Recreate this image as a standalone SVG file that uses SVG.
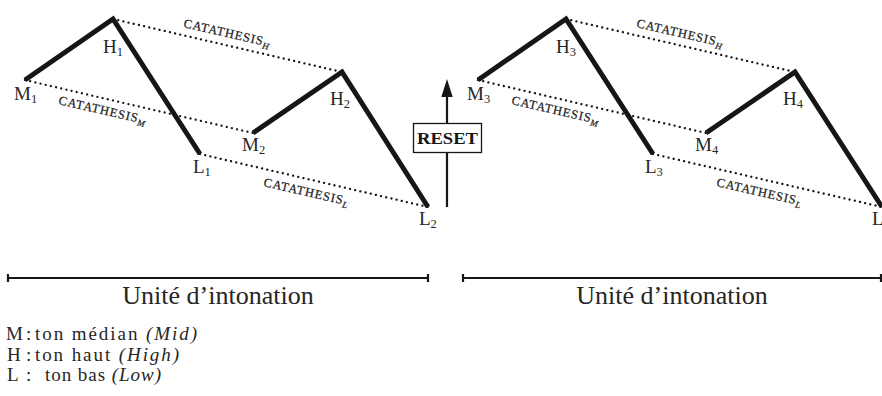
<svg xmlns="http://www.w3.org/2000/svg" width="882" height="396" viewBox="0 0 882 396">
<defs>
<style>
.thick{fill:none;stroke:#161616;stroke-width:5;stroke-linejoin:miter;stroke-linecap:butt}
.dot{fill:none;stroke:#161616;stroke-width:2.3;stroke-dasharray:0.01 5.3;stroke-linecap:round}
.lbl{font-family:"Liberation Serif","Times New Roman",serif;font-size:19px;fill:#262626}
.sub{font-size:12.5px}
.cat{font-family:"Liberation Serif","Times New Roman",serif;font-size:12.5px;letter-spacing:0.9px;fill:#1f1f1f;stroke:#1f1f1f;stroke-width:0.25}
.csub{font-size:9px;font-style:italic;letter-spacing:0}
.unit{font-family:"Liberation Serif","Times New Roman",serif;font-size:26px;fill:#262626}
.leg{font-family:"Liberation Serif","Times New Roman",serif;font-size:19px;fill:#262626}
.brk{fill:none;stroke:#161616;stroke-width:2.2}
</style>
</defs>

<g id="connectors">
<polyline class="thick" points="25,80 113,19 200,154"/>
<polyline class="thick" points="253,133 342,72 428,207"/>
<line class="dot" x1="113" y1="19" x2="342" y2="72"/>
<line class="dot" x1="25" y1="80" x2="253" y2="133"/>
<line class="dot" x1="200" y1="154" x2="428" y2="207"/>
<polyline class="thick" points="478,80 566,19 653,154"/>
<polyline class="thick" points="706,133 795,72 882,207"/>
<line class="dot" x1="566" y1="19" x2="795" y2="72"/>
<line class="dot" x1="478" y1="80" x2="706" y2="133"/>
<line class="dot" x1="653" y1="154" x2="882" y2="207"/>
<line x1="447" y1="207" x2="447" y2="96" stroke="#161616" stroke-width="2.2"/>
<path d="M441.3,97 L447,79 L452.7,97 Z" fill="#161616"/>
</g>

<g id="M1"><text class="lbl" x="14" y="100">M<tspan class="sub" dy="3">1</tspan></text></g>
<g id="H1"><text class="lbl" x="103" y="53">H<tspan class="sub" dy="3">1</tspan></text></g>
<g id="L1"><text class="lbl" x="193" y="173">L<tspan class="sub" dy="3">1</tspan></text></g>
<g id="M2"><text class="lbl" x="242" y="151">M<tspan class="sub" dy="3">2</tspan></text></g>
<g id="H2"><text class="lbl" x="330" y="105">H<tspan class="sub" dy="3">2</tspan></text></g>
<g id="L2"><text class="lbl" x="419" y="225">L<tspan class="sub" dy="3">2</tspan></text></g>

<g id="M3"><text class="lbl" x="467" y="100">M<tspan class="sub" dy="3">3</tspan></text></g>
<g id="H3"><text class="lbl" x="556" y="53">H<tspan class="sub" dy="3">3</tspan></text></g>
<g id="L3"><text class="lbl" x="645" y="173">L<tspan class="sub" dy="3">3</tspan></text></g>
<g id="M4"><text class="lbl" x="695" y="151">M<tspan class="sub" dy="3">4</tspan></text></g>
<g id="H4"><text class="lbl" x="783" y="105">H<tspan class="sub" dy="3">4</tspan></text></g>
<g id="L4"><text class="lbl" x="872" y="225">L</text></g>

<g id="catathesis-left">
<text class="cat" transform="translate(183,27) rotate(13)">CATATHESIS<tspan class="csub" dy="3">H</tspan></text>
<text class="cat" transform="translate(58,104) rotate(13)">CATATHESIS<tspan class="csub" dy="3">M</tspan></text>
<text class="cat" transform="translate(263,186) rotate(13)">CATATHESIS<tspan class="csub" dy="3">L</tspan></text>
</g>
<g id="catathesis-right">
<text class="cat" transform="translate(636,27) rotate(13)">CATATHESIS<tspan class="csub" dy="3">H</tspan></text>
<text class="cat" transform="translate(511,104) rotate(13)">CATATHESIS<tspan class="csub" dy="3">M</tspan></text>
<text class="cat" transform="translate(716,186) rotate(13)">CATATHESIS<tspan class="csub" dy="3">L</tspan></text>
</g>

<g id="reset">
<rect x="413.5" y="123.5" width="68" height="29" fill="#fff" stroke="#161616" stroke-width="1.3"/>
<text x="447.5" y="144" text-anchor="middle" font-family="Liberation Serif,Times New Roman,serif" font-size="17" font-weight="bold" fill="#161616" textLength="61" lengthAdjust="spacingAndGlyphs">RESET</text>
</g>

<g id="unit-left">
<path class="brk" d="M8,278 H428 M8,274 V282 M428,274 V282"/>
<text class="unit" x="218" y="304" text-anchor="middle">Unité d’intonation</text>
</g>
<g id="unit-right">
<path class="brk" d="M463,278 H881 M463,274 V282 M881,274 V282"/>
<text class="unit" x="672" y="304" text-anchor="middle">Unité d’intonation</text>
</g>

<g id="legend">
<text class="leg" x="6" y="340">M</text>
<text class="leg" x="26" y="340">:</text>
<text class="leg" x="35" y="340" textLength="162" lengthAdjust="spacing">ton médian <tspan font-style="italic">(Mid)</tspan></text>
<text class="leg" x="7" y="360.5">H</text>
<text class="leg" x="26" y="360.5">:</text>
<text class="leg" x="35" y="360.5" textLength="144" lengthAdjust="spacing">ton haut <tspan font-style="italic">(High)</tspan></text>
<text class="leg" x="7" y="381">L</text>
<text class="leg" x="26" y="381">:</text>
<text class="leg" x="45" y="381" textLength="116" lengthAdjust="spacing">ton bas <tspan font-style="italic">(Low)</tspan></text>
</g>
</svg>
